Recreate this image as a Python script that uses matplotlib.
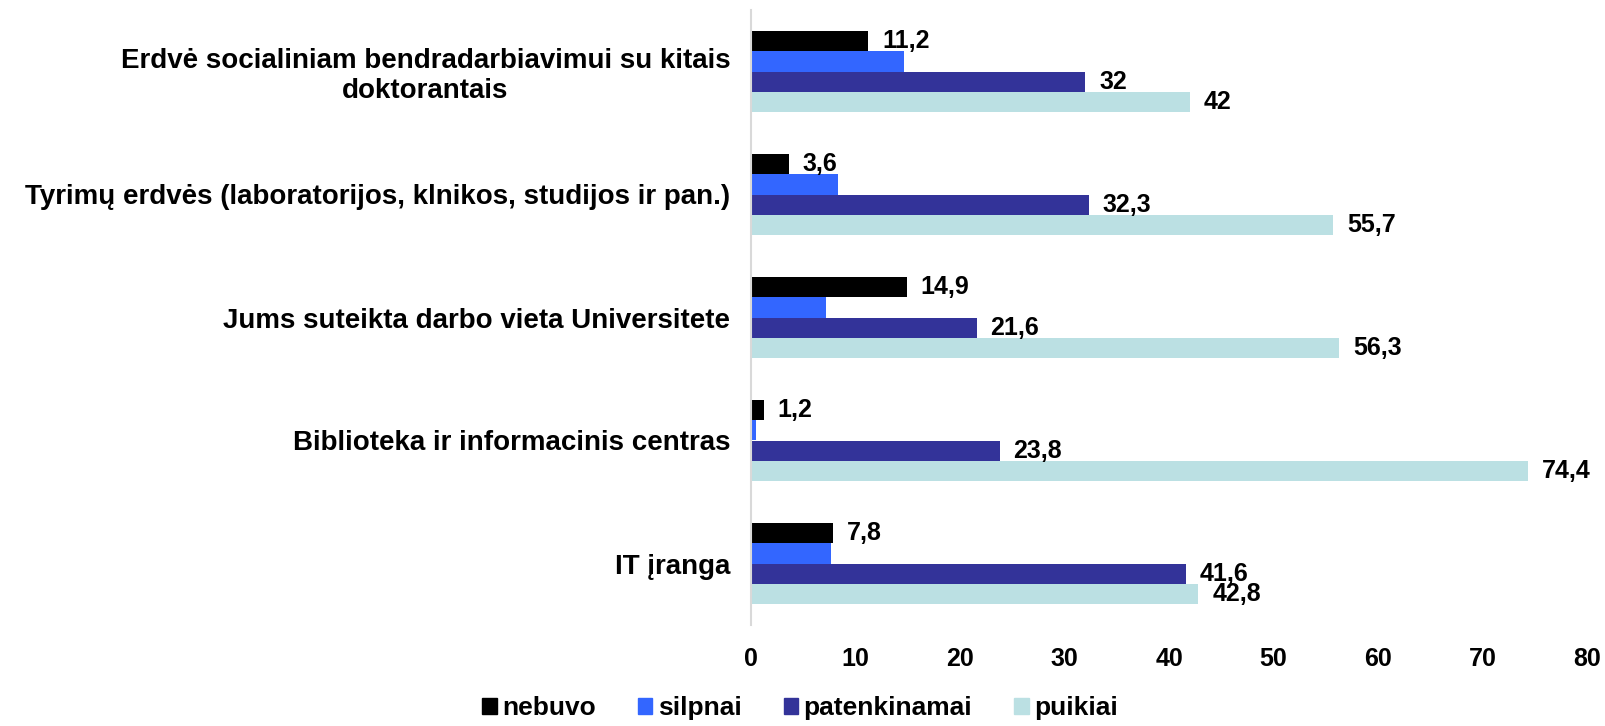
import numpy as np
import matplotlib.pyplot as plt
from matplotlib.patches import Patch

# duomenys
categories = ["Erdvė socialiniam bendradarbiavimui su kitais\ndoktorantais",
              "Tyrimų erdvės (laboratorijos, klnikos, studijos ir pan.)",
              "Jums suteikta darbo vieta Universitete",
              "Biblioteka ir informacinis centras",
              "IT įranga"]
series = ["nebuvo", "silpnai", "patenkinamai", "puikiai"]
nebuvo = [11.2, 3.6, 14.9, 1.2, 7.8]
silpnai = [14.6, 8.3, 7.2, 0.5, 7.7]
patenkinamai = [32, 32.3, 21.6, 23.8, 41.6]
puikiai = [42, 55.7, 56.3, 74.4, 42.8]
values = [nebuvo, silpnai, patenkinamai, puikiai]
show_labels = [True, False, True, True]
colors = ["#000000", "#3366FF", "#333399", "#BBE0E3"]

plt.rcParams['font.family'] = ['Liberation Sans', 'DejaVu Sans']
plt.rcParams['font.weight'] = 'bold'

fig = plt.figure(figsize=(16.06, 7.26), dpi=100)
ax = fig.add_axes([751/1606, 1 - 625/726, 836/1606, 615/726])

y = np.arange(len(categories))
h = 0.163
for i, (name, vals) in enumerate(zip(series, values)):
    pos = y - 1.5*h + i*h
    bars = ax.barh(pos, vals, height=h, color=colors[i], label=name)
    if show_labels[i]:
        for b, v in zip(bars, vals):
            txt = ("%g" % v).replace(".", ",")
            ax.annotate(txt, (b.get_width(), b.get_y() + b.get_height()/2),
                        xytext=(10, 0), textcoords="offset points",
                        ha="left", va="center", fontsize=18, fontweight="bold")

ax.set_ylim(len(categories) - 0.5, -0.5)
ax.set_xlim(0, 80)
ax.set_xticks(range(0, 81, 10))
ax.set_yticks(y)
ax.set_yticklabels(categories, fontsize=20, fontweight="bold", multialignment="center")
ax.tick_params(axis="x", length=0, labelsize=18, pad=16)
ax.tick_params(axis="y", length=0, pad=15)
for s in ["top", "right", "bottom"]:
    ax.spines[s].set_visible(False)
ax.spines["left"].set_color("#D9D9D9")
ax.spines["left"].set_linewidth(1.5)

handles = [Patch(color=c, label=n) for c, n in zip(colors, series)]
fig.legend(handles=handles, loc="center", bbox_to_anchor=(800/1606, 1 - 708/726),
           ncol=4, frameon=False, fontsize=19, handlelength=0.55, handleheight=0.55,
           handletextpad=0.2, columnspacing=1.6)

fig.savefig("out.png", dpi=100)
